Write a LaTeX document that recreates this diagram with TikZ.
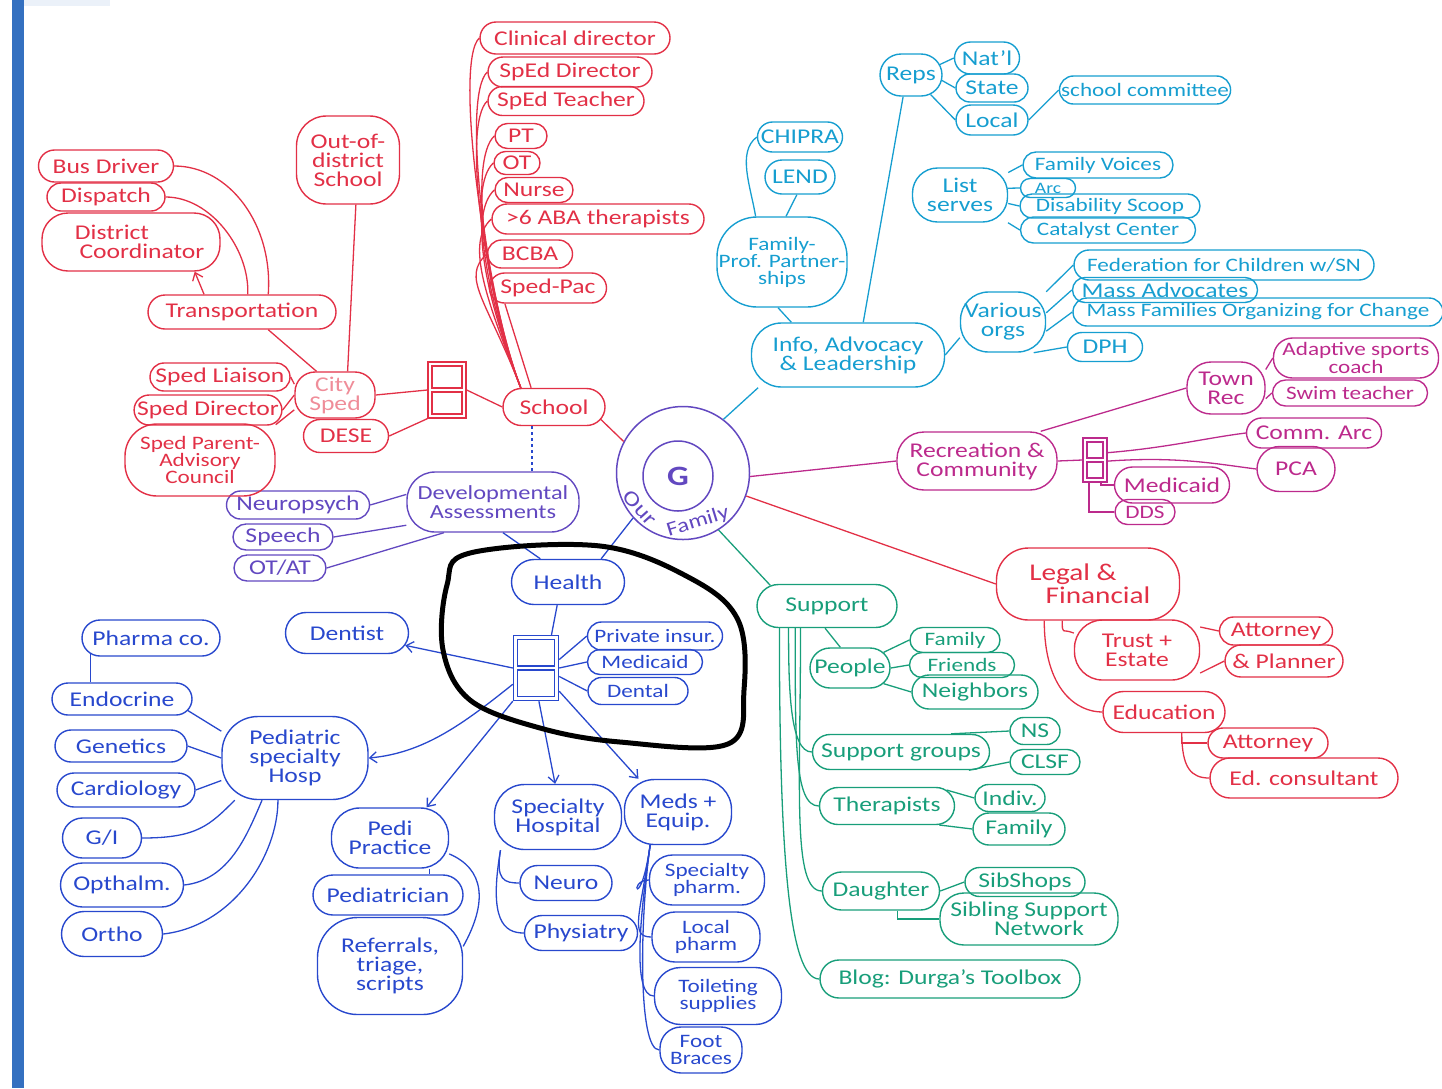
\documentclass[tikz,border=0pt]{standalone}
\usepackage{fontspec}
\setmainfont{Carlito}[FakeStretch=1.22]
\usepackage{tikz}
\usetikzlibrary{arrows.meta}
\usetikzlibrary{shapes.misc}

\definecolor{mmred}{RGB}{226,48,70}
\definecolor{mmpurple}{RGB}{98,72,192}
\definecolor{mmblue}{RGB}{40,72,205}
\definecolor{mmcyan}{RGB}{22,158,208}
\definecolor{mmmag}{RGB}{188,42,140}
\definecolor{mmgreen}{RGB}{24,158,122}
\definecolor{barblue}{RGB}{52,112,192}

\tikzset{
    pill/.style={rounded rectangle, draw, line width=1.4pt, inner xsep=0pt, inner ysep=1pt, align=center},
    box/.style={rectangle, rounded corners=18pt, draw, line width=1.4pt, inner sep=1pt, align=center},
    door/.style={rectangle, draw, line width=1.4pt, inner sep=0pt,
        path picture={
            \draw[line width=1.1pt] ([shift={(4pt,-4pt)}]path picture bounding box.north west) rectangle ([shift={(-4pt,2pt)}]path picture bounding box.east);
            \draw[line width=1.1pt] ([shift={(4pt,-2pt)}]path picture bounding box.west) rectangle ([shift={(-4pt,4pt)}]path picture bounding box.south east);
        }},
    sm/.style={font=\fontsize{19}{17}\selectfont},
}

\begin{document}
\begin{tikzpicture}[x=1pt, y=-1pt, line width=1.3pt, >={Straight Barb[length=7pt,width=11pt]}, font=\fontsize{21}{19}\selectfont]
        \useasboundingbox (0,0) rectangle (1442,1088);
        \fill[barblue] (12,0) rectangle (24,1088);
        \fill[barblue!10] (24,0) rectangle (110,6);

        % centre
        \begin{scope}[color=mmpurple]
            \node[circle, draw, line width=1.5pt, minimum size=133] (fam) at (683,473) {};
            \node[circle, draw, line width=1.5pt, minimum size=70, font=\fontsize{28}{28}\selectfont\bfseries] (g) at (678,476) {G};
            \node[rotate=-48, inner sep=0pt] (ourtxt) at (640,508) {Our};
            \node[rotate=17, inner sep=0pt, font=\fontsize{20}{20}\selectfont] (famtxt) at (698,522) {Family};

            \node[box, minimum width=172, minimum height=60, rounded corners=28pt, font=\fontsize{20}{19}\selectfont] (dev) at (493,502) {Developmental\\Assessments};
            \node[pill, minimum width=143, minimum height=28] (npsych) at (298,505) {Neuropsych};
            \node[pill, minimum width=100, minimum height=26] (speech) at (283,537) {Speech};
            \node[pill, minimum width=92, minimum height=26] (otat) at (280,568) {OT/AT};
            \draw (npsych.east) -- (dev.175);
            \draw (speech.east) -- (dev.195);
            \draw (otat.east) -- (dev.212);
        \end{scope}

        % school
        \begin{scope}[color=mmred]
            \node[pill, minimum width=190, minimum height=32] (clindir) at (575,38) {Clinical director};
            \node[pill, minimum width=164, minimum height=30] (spedir) at (570,72) {SpEd Director};
            \node[pill, minimum width=156, minimum height=29] (spedteach) at (566,101) {SpEd Teacher};
            \node[pill, minimum width=52, minimum height=25] (pt) at (521,136) {PT};
            \node[pill, minimum width=46, minimum height=23] (ot) at (517,163) {OT};
            \node[pill, minimum width=78, minimum height=25] (nurse) at (534,190) {Nurse};
            \node[pill, minimum width=212, minimum height=30] (aba) at (598,219) {>6 ABA therapists};
            \node[pill, minimum width=85, minimum height=28] (bcba) at (530,254) {BCBA};
            \node[pill, minimum width=117, minimum height=30] (spedpac) at (548,288) {Sped-Pac};
            \node[pill, minimum width=102, minimum height=37] (school) at (554,407) {School};
            \node[door, minimum width=38, minimum height=56] (rdoor) at (447,390) {};
            \node[box, minimum width=80, minimum height=46, rounded corners=20pt, text=mmred!55] (citysped) at (335,395) {City\\Sped};
            \node[pill, minimum width=85, minimum height=33] (dese) at (346,436) {DESE};
            \node[box, minimum width=103, minimum height=88, rounded corners=30pt] (ood) at (348,160) {Out-of-\\district\\School};
            \node[pill, minimum width=188, minimum height=34] (transp) at (242,312) {Transportation};
            \node[pill, minimum width=135, minimum height=32] (busdrv) at (106,166) {Bus Driver};
            \node[pill, minimum width=118, minimum height=28] (dispatch) at (106,197) {Dispatch};
            \node[box, minimum width=178, minimum height=58, rounded corners=26pt] (distco) at (131,242) {District\hspace*{38pt}\\\hspace*{22pt}Coordinator};
            \node[pill, minimum width=140, minimum height=28] (liaison) at (220,377) {Sped Liaison};
            \node[pill, minimum width=140, minimum height=30] (speddir) at (208,410) {Sped Director};
            \node[box, minimum width=150, minimum height=72, rounded corners=32pt, sm] (spac) at (200,460) {Sped Parent-\\Advisory\\Council};

            \foreach \k in {clindir,spedir,spedteach,pt,ot,nurse,aba,bcba}
                \draw (school.150) .. controls +(-35,-90) and +(-26,24) .. (\k.west);
            \draw (school.140) -- (spedpac.-160);
            \draw (rdoor.east) -- (school.west);
            \draw (citysped.east) -- (rdoor.west);
            \draw (dese.east) -- (rdoor.south west);
            \draw (ood.-80) -- (citysped.62);
            \draw (transp.-34) -- (citysped.128);
            \draw (busdrv.east) .. controls +(55,0) and +(5,-70) .. (transp.34);
            \draw (dispatch.east) .. controls +(45,0) and +(2,-45) .. (transp.72);
            \draw[->] (transp.155) -- (distco.-25);
            \draw (liaison.east) -- (citysped.165);
            \draw (speddir.east) -- (citysped.west);
            \draw (spac.25) -- (citysped.200);
            \draw (school.-15) -- (fam.152);
        \end{scope}
        \draw[dashed, mmblue, line width=1.5pt] ([xshift=-22pt]school.south) -- ([xshift=39pt]dev.north);

        % health
        \begin{scope}[color=mmblue]
            \node[pill, minimum width=113, minimum height=45] (health) at (568,582) {Health};
            \node[door, minimum width=45, minimum height=65] (hdoor) at (536,668) {};
            \node[pill, minimum width=135, minimum height=28, sm] (priv) at (655,636) {Private insur.};
            \node[pill, minimum width=115, minimum height=25, sm] (hmed) at (645,662) {Medicaid};
            \node[pill, minimum width=100, minimum height=27, sm] (dental) at (638,691) {Dental};
            \node[pill, minimum width=123, minimum height=41] (dentist) at (347,633) {Dentist};
            \node[pill, minimum width=138, minimum height=36] (pharma) at (151,638) {Pharma co.};
            \node[pill, minimum width=140, minimum height=32] (endo) at (122,699) {Endocrine};
            \node[pill, minimum width=132, minimum height=32] (genet) at (121,746) {Genetics};
            \node[pill, minimum width=138, minimum height=34] (cardio) at (126,790) {Cardiology};
            \node[pill, minimum width=79, minimum height=40] (gi) at (102,838) {G/I};
            \node[pill, minimum width=123, minimum height=44] (opth) at (122,885) {Opthalm.};
            \node[pill, minimum width=101, minimum height=45] (ortho) at (112,934) {Ortho};
            \node[box, minimum width=146, minimum height=83, rounded corners=36pt] (ped) at (295,758) {Pediatric\\specialty\\Hosp};
            \node[box, minimum width=117, minimum height=60, rounded corners=28pt] (pedi) at (390,838) {Pedi\\Practice};
            \node[pill, minimum width=150, minimum height=40] (pediatr) at (388,895) {Pediatrician};
            \node[box, minimum width=145, minimum height=97, rounded corners=40pt] (referr) at (390,966) {Referrals,\\triage,\\scripts};
            \node[box, minimum width=127, minimum height=65, rounded corners=30pt] (spechosp) at (558,817) {Specialty\\Hospital};
            \node[pill, minimum width=92, minimum height=35] (neuro) at (566,883) {Neuro};
            \node[pill, minimum width=113, minimum height=35] (physia) at (581,933) {Physiatry};
            \node[box, minimum width=107, minimum height=65, rounded corners=30pt] (meds) at (678,812) {Meds +\\Equip.};
            \node[box, minimum width=115, minimum height=50, rounded corners=23pt, sm] (specph) at (707,880) {Specialty\\pharm.};
            \node[box, minimum width=108, minimum height=50, rounded corners=23pt, sm] (localph) at (706,937) {Local\\pharm};
            \node[box, minimum width=127, minimum height=57, rounded corners=26pt, sm] (toilet) at (718,996) {Toileting\\supplies};
            \node[box, minimum width=82, minimum height=46, rounded corners=21pt, sm] (foot) at (701,1050) {Foot\\Braces};

            \draw (fam.222) -- (health.35);
            \draw (dev.-72) -- (health.140);
            \draw (health.-115) -- (hdoor.65);
            \draw (hdoor.20) -- (priv.west);
            \draw (hdoor.east) -- (hmed.west);
            \draw (hdoor.-20) -- (dental.west);
            \draw[->] (hdoor.west) -- (dentist.-12);
            \draw[->] (hdoor.-145) .. controls +(-50,40) and +(55,-5) .. (ped.east);
            \draw[->] (hdoor.-125) -- (pedi.40);
            \draw[->] (hdoor.-85) -- (spechosp.95);
            \draw[->] (hdoor.-45) -- (meds.140);
            \draw (pharma.195) -- (pharma.195 |- endo.north);
            \draw (endo.-10) -- (ped.160);
            \draw (genet.east) -- (ped.180);
            \draw (cardio.east) -- (ped.197);
            \draw (gi.east) .. controls +(55,0) and +(-25,25) .. (ped.215);
            \draw (opth.east) .. controls +(45,-5) and +(-15,35) .. (ped.232);
            \draw (ortho.east) .. controls +(70,-8) and +(0,55) .. (ped.248);
            \draw (pedi.-38) -- (pedi.-38 |- pediatr.north);
            \draw (pedi.-15) .. controls +(35,15) and +(25,-45) .. (referr.15);
            \draw (spechosp.-150) .. controls +(-5,30) and +(-15,0) .. (neuro.west);
            \draw (spechosp.-150) .. controls +(-12,70) and +(-20,0) .. (physia.west);
            \foreach \k in {specph,localph,toilet,foot}
                \draw (meds.-130) .. controls +(-10,70) and +(-22,0) .. (\k.west);
        \end{scope}

        % info, advocacy
        \begin{scope}[color=mmcyan]
            \node[box, minimum width=193, minimum height=64, rounded corners=30pt] (info) at (848,355) {Info, Advocacy\\\& Leadership};
            \node[box, minimum width=130, minimum height=90, rounded corners=40pt, sm] (fp) at (782,262) {Family-\\Prof. Partner-\\ships};
            \node[pill, minimum width=85, minimum height=30] (chipra) at (800,137) {CHIPRA};
            \node[pill, minimum width=70, minimum height=34] (lend) at (800,177) {LEND};
            \node[pill, minimum width=62, minimum height=42] (reps) at (911,75) {Reps};
            \node[pill, minimum width=65, minimum height=32] (natl) at (987,58) {Nat'l};
            \node[pill, minimum width=72, minimum height=28] (state) at (992,88) {State};
            \node[pill, minimum width=72, minimum height=30] (local) at (992,120) {Local};
            \node[pill, minimum width=170, minimum height=28, sm] (schcom) at (1145,90) {school committee};
            \node[box, minimum width=95, minimum height=54, rounded corners=25pt] (lists) at (960,195) {List\\serves};
            \node[pill, minimum width=150, minimum height=26, sm] (fv) at (1098,165) {Family Voices};
            \node[pill, minimum width=55, minimum height=19, font=\fontsize{16}{16}\selectfont] (arc) at (1048,188) {Arc};
            \node[pill, minimum width=180, minimum height=24, sm] (disab) at (1110,206) {Disability Scoop};
            \node[pill, minimum width=175, minimum height=26, sm] (catal) at (1108,230) {Catalyst Center};
            \node[box, minimum width=85, minimum height=60, rounded corners=28pt] (various) at (1003,322) {Various\\orgs};
            \node[pill, minimum width=300, minimum height=30, sm] (fed) at (1224,265) {Federation for Children w/SN};
            \node[pill, minimum width=185, minimum height=25] (massadv) at (1165,290) {Mass Advocates};
            \node[pill, minimum width=370, minimum height=28, sm] (massfam) at (1258,312) {Mass Families Organizing for Change};
            \node[pill, minimum width=75, minimum height=29] (dph) at (1105,347) {DPH};

            \draw (fam.53) -- (info.200);
            \draw (info.65) -- (reps.-110);
            \draw (fp.-95) -- (info.150);
            \draw (chipra.west) .. controls +(-20,15) and +(-5,-30) .. (fp.120);
            \draw (lend.-100) -- (fp.85);
            \draw (reps.20) -- (natl.west);
            \draw (reps.-10) -- (state.west);
            \draw (reps.-45) -- (local.west);
            \draw (local.east) -- (schcom.west);
            \draw (lists.25) -- (fv.west);
            \draw (lists.8) -- (arc.west);
            \draw (lists.-10) -- (disab.west);
            \draw (lists.-30) -- (catal.west);
            \draw (info.east) -- (various.200);
            \draw (various.35) -- (fed.west);
            \draw (various.12) -- (massadv.west);
            \draw (various.-12) -- (massfam.west);
            \draw (various.-45) -- (dph.west);
        \end{scope}

        % recreation
        \begin{scope}[color=mmmag]
            \node[box, minimum width=160, minimum height=58, rounded corners=27pt] (rec) at (977,461) {Recreation \&\\Community};
            \node[box, minimum width=78, minimum height=52, rounded corners=24pt] (townrec) at (1226,388) {Town\\Rec};
            \node[box, minimum width=165, minimum height=40, rounded corners=19pt, font=\fontsize{19}{15}\selectfont] (adapt) at (1356,358) {Adaptive sports\\coach};
            \node[pill, minimum width=155, minimum height=26, sm] (swim) at (1350,393) {Swim teacher};
            \node[door, minimum width=24, minimum height=44] (mdoor) at (1095,460) {};
            \node[pill, minimum width=135, minimum height=30] (commarc) at (1314,433) {Comm. Arc};
            \node[pill, minimum width=78, minimum height=45] (pca) at (1296,469) {PCA};
            \node[pill, minimum width=115, minimum height=36] (mmed) at (1172,485) {Medicaid};
            \node[pill, minimum width=60, minimum height=25, sm] (dds) at (1145,512) {DDS};

            \draw (fam.-3) -- (rec.west);
            \draw (rec.25) -- (townrec.west);
            \draw (townrec.25) -- (adapt.west);
            \draw (townrec.-15) -- (swim.west);
            \draw (rec.east) -- (mdoor.west);
            \draw (mdoor.30) .. controls +(60,-5) and +(-40,5) .. (commarc.west);
            \draw (mdoor.-5) .. controls +(70,-5) and +(-40,-5) .. (pca.west);
            \draw (mdoor.-75) |- (mmed.west);
            \draw (mdoor.-105) |- (dds.west);
        \end{scope}

        % legal
        \begin{scope}[color=mmred]
            \node[box, minimum width=183, minimum height=72, rounded corners=32pt, font=\fontsize{24}{23}\selectfont] (legal) at (1088,584) {Legal \&\hspace*{30pt}\\\hspace*{20pt}Financial};
            \node[box, minimum width=125, minimum height=60, rounded corners=28pt] (trust) at (1137,650) {Trust +\\Estate};
            \node[pill, minimum width=113, minimum height=28] (att1) at (1276,631) {Attorney};
            \node[pill, minimum width=118, minimum height=32] (plan) at (1284,661) {\& Planner};
            \node[pill, minimum width=122, minimum height=41] (educ) at (1164,712) {Education};
            \node[pill, minimum width=120, minimum height=30] (att2) at (1268,743) {Attorney};
            \node[pill, minimum width=188, minimum height=40] (edcons) at (1304,778) {Ed. consultant};

            \draw (fam.-20) -- (legal.west);
            \draw (legal.-125) .. controls +(0,15) and +(-12,-5) .. (trust.165);
            \draw (legal.-140) .. controls +(0,70) and +(-25,0) .. (educ.west);
            \draw (trust.20) -- (att1.west);
            \draw (trust.-20) -- (plan.west);
            \draw (educ.-50) |- (att2.west);
            \draw (educ.-50) .. controls +(0,35) and +(-18,0) .. (edcons.west);
        \end{scope}

        % support
        \begin{scope}[color=mmgreen]
            \node[pill, minimum width=140, minimum height=43] (sup) at (827,606) {Support};
            \node[pill, minimum width=80, minimum height=40] (people) at (850,668) {People};
            \node[pill, minimum width=90, minimum height=25, sm] (pfam) at (955,640) {Family};
            \node[pill, minimum width=105, minimum height=25, sm] (friends) at (962,665) {Friends};
            \node[pill, minimum width=126, minimum height=34] (neigh) at (975,692) {Neighbors};
            \node[pill, minimum width=177, minimum height=35] (supgrp) at (901,752) {Support groups};
            \node[pill, minimum width=50, minimum height=27] (ns) at (1035,731) {NS};
            \node[pill, minimum width=70, minimum height=25] (clsf) at (1045,762) {CLSF};
            \node[pill, minimum width=135, minimum height=37] (ther) at (887,806) {Therapists};
            \node[pill, minimum width=70, minimum height=27] (indiv) at (1010,798) {Indiv.};
            \node[pill, minimum width=92, minimum height=32] (tfam) at (1019,829) {Family};
            \node[pill, minimum width=117, minimum height=38] (daugh) at (881,891) {Daughter};
            \node[pill, minimum width=120, minimum height=29] (sibs) at (1025,882) {SibShops};
            \node[box, minimum width=178, minimum height=52, rounded corners=24pt] (ssn) at (1029,919) {Sibling Support\\\hspace*{20pt}Network};
            \node[pill, minimum width=260, minimum height=38] (blog) at (950,979) {Blog: Durga's Toolbox};

            \draw (fam.-58) -- (sup.160);
            \draw (sup.-95) -- (people.115);
            \draw (sup.-150) .. controls +(0,60) and +(-22,0) .. (supgrp.west);
            \draw (sup.-145) .. controls +(0,110) and +(-25,0) .. (ther.west);
            \draw (sup.-140) .. controls +(0,160) and +(-30,0) .. (daugh.west);
            \draw (sup.-155) .. controls +(0,230) and +(-30,0) .. (blog.west);
            \draw (people.25) -- (pfam.west);
            \draw (people.east) -- (friends.west);
            \draw (people.-25) -- (neigh.west);
            \draw (supgrp.20) -- (ns.west);
            \draw (supgrp.-15) -- (clsf.west);
            \draw (ther.15) -- (indiv.west);
            \draw (ther.-20) -- (tfam.west);
            \draw (daugh.east) -- (sibs.west);
            \draw (daugh.-50) |- (ssn.west);
        \end{scope}

        % the ring round health
        \draw[black, line width=5pt] plot[smooth cycle, tension=0.6] coordinates {(470,553) (600,546) (690,578) (738,620) (744,690) (728,744) (620,742) (540,728) (470,700) (443,650) (447,585)};
    \end{tikzpicture}
\end{document}
